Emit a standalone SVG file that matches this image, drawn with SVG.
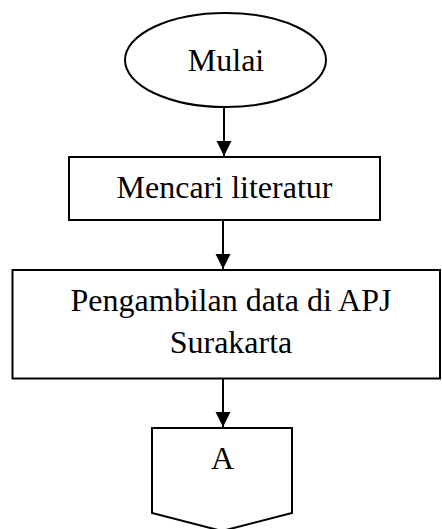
<svg xmlns="http://www.w3.org/2000/svg" width="442" height="529" viewBox="0 0 442 529">
<style>
.s{fill:#fff;stroke:#000;stroke-width:2}
.t{font-family:"Liberation Serif","Times New Roman",serif;font-size:32px;fill:#000;text-anchor:middle}
.c{stroke:#000;stroke-width:2;fill:none}
</style>
<defs>
<marker id="ah" markerUnits="userSpaceOnUse" markerWidth="16" markerHeight="16" refX="15" refY="7.5" orient="auto">
<path d="M0,0 L15,7.5 L0,15 Z" fill="#000"/>
</marker>
</defs>
<rect width="442" height="529" fill="#fff"/>
<g id="mulai">
<ellipse class="s" cx="225.5" cy="60" rx="100.5" ry="47"/>
<text class="t" x="226" y="71">Mulai</text>
</g>
<g id="mencari">
<rect class="s" x="69" y="157" width="311" height="63"/>
<text class="t" x="224.5" y="198">Mencari literatur</text>
</g>
<g id="pengambilan">
<rect class="s" x="12.5" y="270" width="427.5" height="108.5"/>
<text class="t" x="231" y="311">Pengambilan data di APJ</text>
<text class="t" x="231" y="353">Surakarta</text>
</g>
<g id="connA">
<path class="s" d="M152,428 L292,428 L292,513 L222,531 L152,513 Z"/>
<text class="t" x="222.5" y="469">A</text>
</g>
<g id="connectors">
<line class="c" x1="224" y1="107" x2="224" y2="156" marker-end="url(#ah)"/>
<line class="c" x1="223" y1="220" x2="223" y2="269" marker-end="url(#ah)"/>
<line class="c" x1="223" y1="378.5" x2="223" y2="427" marker-end="url(#ah)"/>
</g>
</svg>
